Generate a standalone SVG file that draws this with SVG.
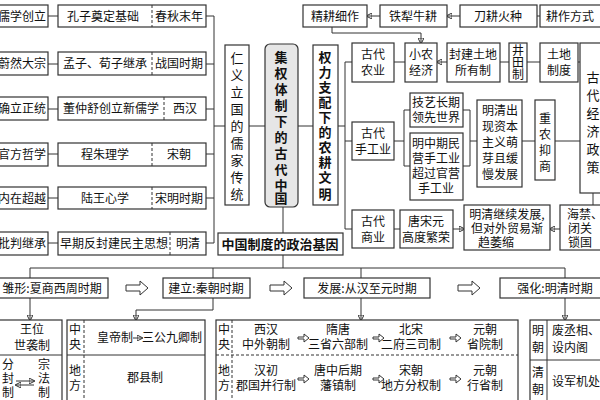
<svg xmlns="http://www.w3.org/2000/svg" width="600" height="400" viewBox="0 0 600 400">
<defs>
<style>
rect{fill:#fff;stroke:#333;stroke-width:1.2}
line,polyline,path{stroke:#333;stroke-width:1;fill:none}
.d{stroke-dasharray:3,2}
text{font-family:"Noto Sans CJK SC",sans-serif;font-size:12px;fill:#111;text-anchor:middle}
.b{font-weight:bold;font-size:13px}
.v{font-size:13px}
.e{text-anchor:end}
.ha{fill:#fff;stroke:#333;stroke-width:1}
</style>
<marker id="a" markerWidth="6" markerHeight="6" refX="5" refY="3" orient="auto"><path d="M0,0L6,3L0,6z" fill="#333" stroke="none"/></marker>
</defs>
<g id="connectors">
<line x1="48" y1="16" x2="58" y2="16"/><line x1="48" y1="64" x2="58" y2="64"/><line x1="48" y1="109" x2="58" y2="109"/><line x1="48" y1="154" x2="58" y2="154"/><line x1="48" y1="198" x2="58" y2="198"/><line x1="48" y1="243" x2="58" y2="243"/>
<polyline points="206,16 214,16 214,243 206,243"/>
<line x1="206" y1="64" x2="214" y2="64"/><line x1="206" y1="109" x2="214" y2="109"/><line x1="206" y1="154" x2="214" y2="154"/><line x1="206" y1="198" x2="214" y2="198"/>
<line x1="214" y1="126" x2="225" y2="126"/><line x1="249" y1="126" x2="265" y2="126"/><line x1="298" y1="126" x2="313" y2="126"/>
<line x1="338" y1="126" x2="345" y2="126"/>
<polyline points="352,62 345,62 345,229 352,229"/><line x1="345" y1="141" x2="352" y2="141"/>
<line x1="394" y1="62" x2="405" y2="62"/>
<line x1="447" y1="62" x2="437" y2="62" marker-end="url(#a)"/>
<line x1="500" y1="62" x2="509" y2="62"/><line x1="527" y1="62" x2="540" y2="62"/><line x1="578" y1="62" x2="580" y2="62"/>
<line x1="380" y1="16" x2="367" y2="16" marker-end="url(#a)"/>
<line x1="460" y1="16" x2="447" y2="16" marker-end="url(#a)"/>
<line x1="537" y1="16" x2="540" y2="16"/>
<polyline points="332,27 332,33 421,33 421,43" marker-end="url(#a)"/>
<line x1="394" y1="141" x2="404" y2="141"/>
<polyline points="410,110 404,110 404,166 410,166"/>
<polyline points="463,110 470,110 470,166 463,166"/><line x1="470" y1="141" x2="477" y2="141"/>
<line x1="522" y1="141" x2="535" y2="141"/><line x1="555" y1="141" x2="580" y2="141"/>
<line x1="394" y1="229" x2="400" y2="229"/>
<line x1="453" y1="229" x2="464" y2="229" marker-end="url(#a)"/>
<line x1="560" y1="229" x2="550" y2="229" marker-end="url(#a)"/>
<line x1="593" y1="193" x2="593" y2="205"/>
<line x1="283" y1="207" x2="283" y2="233"/>
<line x1="283" y1="255" x2="283" y2="268"/>
<polyline points="30,278 30,268 565,268 565,278"/>
<line x1="213" y1="268" x2="213" y2="278"/><line x1="361" y1="268" x2="361" y2="278"/>
<line x1="30" y1="298" x2="30" y2="320" marker-end="url(#a)"/>
<polyline points="213,298 213,310 136,310 136,320" marker-end="url(#a)"/>
<line x1="361" y1="298" x2="361" y2="320" marker-end="url(#a)"/>
<line x1="565" y1="298" x2="565" y2="320" marker-end="url(#a)"/>
<path class="ha" d="M126,285h14v-4l8,7l-8,7v-4h-14z"/>
<path class="ha" d="M270,285h14v-4l8,7l-8,7v-4h-14z"/>
<path class="ha" d="M458,285h14v-4l8,7l-8,7v-4h-14z"/>
</g>
<g id="left">
<rect x="-5" y="5" width="53" height="22"/><text class="e" x="46" y="21">儒学创立</text>
<rect x="-5" y="52" width="53" height="23"/><text class="e" x="46" y="68">蔚然大宗</text>
<rect x="-5" y="97" width="53" height="23"/><text class="e" x="46" y="113">确立正统</text>
<rect x="-5" y="143" width="53" height="23"/><text class="e" x="46" y="159">官方哲学</text>
<rect x="-5" y="187" width="53" height="22"/><text class="e" x="46" y="203">内在超越</text>
<rect x="-5" y="232" width="53" height="23"/><text class="e" x="46" y="248">批判继承</text>
<rect x="58" y="5" width="148" height="22"/><line class="d" x1="152" y1="5" x2="152" y2="27"/><text x="103" y="21">孔子奠定基础</text><text x="179" y="21">春秋末年</text>
<rect x="58" y="52" width="148" height="23"/><line class="d" x1="152" y1="52" x2="152" y2="75"/><text x="105" y="68">孟子、荀子继承</text><text x="179" y="68">战国时期</text>
<rect x="58" y="97" width="148" height="23"/><line class="d" x1="164" y1="97" x2="164" y2="120"/><text x="111" y="113">董仲舒创立新儒学</text><text x="185" y="113">西汉</text>
<rect x="58" y="143" width="148" height="23"/><line class="d" x1="152" y1="143" x2="152" y2="166"/><text x="105" y="159">程朱理学</text><text x="179" y="159">宋朝</text>
<rect x="58" y="187" width="148" height="22"/><line class="d" x1="152" y1="187" x2="152" y2="209"/><text x="105" y="203">陆王心学</text><text x="179" y="203">宋明时期</text>
<rect x="58" y="232" width="148" height="23"/><line class="d" x1="170" y1="232" x2="170" y2="255"/><text x="114" y="248">早期反封建民主思想</text><text x="188" y="248">明清</text>
</g>
<g id="renyi"><rect x="225" y="45" width="24" height="160"/>
<text class="v"><tspan x="237" y="63">仁</tspan><tspan x="237" y="80">义</tspan><tspan x="237" y="97">立</tspan><tspan x="237" y="114">国</tspan><tspan x="237" y="131">的</tspan><tspan x="237" y="148">儒</tspan><tspan x="237" y="165">家</tspan><tspan x="237" y="182">传</tspan><tspan x="237" y="199">统</tspan></text></g>
<g id="center"><rect x="265" y="44" width="33" height="163" rx="5" style="fill:#e6e6e6"/>
<text class="b"><tspan x="281" y="62">集</tspan><tspan x="281" y="78">权</tspan><tspan x="281" y="94">体</tspan><tspan x="281" y="110">制</tspan><tspan x="281" y="126">下</tspan><tspan x="281" y="142">的</tspan><tspan x="281" y="158">古</tspan><tspan x="281" y="174">代</tspan><tspan x="281" y="190">中</tspan><tspan x="281" y="203">国</tspan></text></g>
<g id="nonggeng"><rect x="313" y="45" width="25" height="160"/>
<text class="b"><tspan x="325" y="62">权</tspan><tspan x="325" y="77">力</tspan><tspan x="325" y="92">支</tspan><tspan x="325" y="107">配</tspan><tspan x="325" y="122">下</tspan><tspan x="325" y="137">的</tspan><tspan x="325" y="152">农</tspan><tspan x="325" y="167">耕</tspan><tspan x="325" y="182">文</tspan><tspan x="325" y="199">明</tspan></text></g>
<g id="econ">
<rect x="303" y="5" width="64" height="22"/><text x="335" y="21">精耕细作</text>
<rect x="380" y="5" width="67" height="22"/><text x="413" y="21">铁犁牛耕</text>
<rect x="460" y="5" width="77" height="22"/><text x="498" y="21">刀耕火种</text>
<rect x="540" y="5" width="65" height="22"/><text x="570" y="21">耕作方式</text>
<rect x="352" y="43" width="42" height="39"/><text x="373" y="59">古代</text><text x="373" y="75">农业</text>
<rect x="405" y="43" width="32" height="39"/><text x="421" y="59">小农</text><text x="421" y="75">经济</text>
<rect x="447" y="43" width="53" height="39"/><text x="473" y="59">封建土地</text><text x="473" y="75">所有制</text>
<rect x="509" y="43" width="18" height="39"/><text x="518" y="55" font-size="11">井</text><text x="518" y="67" font-size="11">田</text><text x="518" y="79" font-size="11">制</text>
<rect x="540" y="43" width="38" height="39"/><text x="559" y="59">土地</text><text x="559" y="75">制度</text>
<rect x="580" y="43" width="25" height="150"/><text class="v"><tspan x="593" y="82">古</tspan><tspan x="593" y="100">代</tspan><tspan x="593" y="118">经</tspan><tspan x="593" y="136">济</tspan><tspan x="593" y="154">政</tspan><tspan x="593" y="172">策</tspan></text>
<rect x="352" y="122" width="42" height="38"/><text x="373" y="138">古代</text><text x="373" y="154">手工业</text>
<rect x="410" y="93" width="53" height="34"/><text x="436" y="107">技艺长期</text><text x="436" y="122">领先世界</text>
<rect x="410" y="133" width="53" height="67"/><text x="436" y="148">明中期民</text><text x="436" y="163">营手工业</text><text x="436" y="178">超过官营</text><text x="436" y="193">手工业</text>
<rect x="477" y="100" width="45" height="87"/><text x="500" y="115">明清出</text><text x="500" y="131">现资本</text><text x="500" y="147">主义萌</text><text x="500" y="163">芽且缓</text><text x="500" y="179">慢发展</text>
<rect x="535" y="100" width="20" height="80"/><text x="545" y="123">重</text><text x="545" y="139">农</text><text x="545" y="155">抑</text><text x="545" y="171">商</text>
<rect x="352" y="210" width="42" height="38"/><text x="373" y="226">古代</text><text x="373" y="242">商业</text>
<rect x="400" y="210" width="53" height="38"/><text x="426" y="226">唐宋元</text><text x="426" y="242">高度繁荣</text>
<rect x="464" y="205" width="86" height="45"/><text x="507" y="219">明清继续发展,</text><text x="507" y="233">但对外贸易渐</text><text x="496" y="247">趋萎缩</text>
<rect x="560" y="205" width="45" height="45"/><text x="585" y="219">海禁、</text><text x="580" y="233">闭关</text><text x="580" y="247">锁国</text>
</g>
<g id="gene"><rect x="218" y="233" width="125" height="22"/><text class="b" x="280" y="249">中国制度的政治基因</text></g>
<g id="stages">
<rect x="-5" y="278" width="113" height="20"/><text x="52" y="293" font-size="13">雏形:夏商西周时期</text>
<rect x="163" y="278" width="87" height="20"/><text x="206" y="293" font-size="13">建立:秦朝时期</text>
<rect x="304" y="278" width="126" height="20"/><text x="367" y="293" font-size="13">发展:从汉至元时期</text>
<rect x="500" y="278" width="105" height="20"/><text x="555" y="293" font-size="13">强化:明清时期</text>
</g>
<g id="xia"><rect x="-5" y="320" width="67" height="85"/><line x1="-5" y1="355" x2="62" y2="355"/>
<text x="32" y="334">王位</text><text x="32" y="350">世袭制</text>
<text x="8" y="369">分</text><text x="8" y="383">封</text><text x="8" y="397">制</text><text x="44" y="369">宗</text><text x="44" y="383">法</text><text x="44" y="397">制</text>
<line x1="16" y1="381" x2="34" y2="381" marker-end="url(#a)"/><line x1="34" y1="385" x2="16" y2="385" marker-end="url(#a)"/></g>
<g id="qin"><rect x="67" y="320" width="138" height="85"/><line class="d" x1="84" y1="320" x2="84" y2="405"/><line x1="67" y1="355" x2="205" y2="355"/>
<text x="75" y="334">中</text><text x="75" y="349">央</text><text x="75" y="375">地</text><text x="75" y="390">方</text>
<text x="115" y="342">皇帝制</text><line x1="133" y1="338" x2="142" y2="338" marker-end="url(#a)"/><text x="172" y="342">三公九卿制</text>
<text x="145" y="382">郡县制</text></g>
<g id="han"><rect x="216" y="320" width="302" height="85"/><line class="d" x1="232" y1="320" x2="232" y2="405"/><line class="d" x1="216" y1="355" x2="518" y2="355"/>
<text x="224" y="334">中</text><text x="224" y="349">央</text><text x="224" y="375">地</text><text x="224" y="390">方</text>
<text x="266" y="334">西汉</text><text x="266" y="349">中外朝制</text>
<text x="338" y="334">隋唐</text><text x="338" y="349">三省六部制</text>
<text x="411" y="334">北宋</text><text x="411" y="349">二府三司制</text>
<text x="485" y="334">元朝</text><text x="485" y="349">省院制</text>
<text x="266" y="375">汉初</text><text x="266" y="390">郡国并行制</text>
<text x="338" y="375">唐中后期</text><text x="338" y="390">藩镇制</text>
<text x="411" y="375">宋朝</text><text x="411" y="390">地方分权制</text>
<text x="485" y="375">元朝</text><text x="485" y="390">行省制</text>
<path class="ha" d="M298,337h6v-3l5,4l-5,4v-3h-6z"/><path class="ha" d="M373,337h6v-3l5,4l-5,4v-3h-6z"/><path class="ha" d="M450,337h6v-3l5,4l-5,4v-3h-6z"/>
<path class="ha" d="M298,378h6v-3l5,4l-5,4v-3h-6z"/><path class="ha" d="M373,378h6v-3l5,4l-5,4v-3h-6z"/><path class="ha" d="M450,378h6v-3l5,4l-5,4v-3h-6z"/></g>
<g id="ming"><rect x="530" y="320" width="75" height="85"/><line x1="547" y1="320" x2="547" y2="405"/><line x1="530" y1="360" x2="605" y2="360"/>
<text x="538" y="335">明</text><text x="538" y="352">朝</text><text x="538" y="377">清</text><text x="538" y="394">朝</text>
<text x="552" y="335" style="text-anchor:start">废丞相、</text><text x="552" y="352" style="text-anchor:start">设内阁</text><text x="552" y="386" style="text-anchor:start">设军机处</text></g>
</svg>
